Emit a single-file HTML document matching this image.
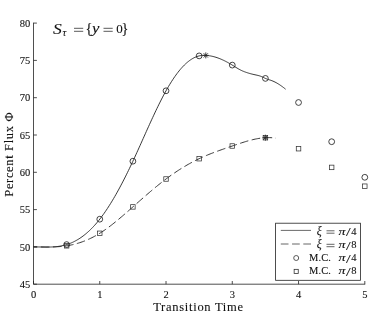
<!DOCTYPE html>
<html><head><meta charset="utf-8"><style>
html,body{margin:0;padding:0;background:#fff;}
body{width:374px;height:315px;overflow:hidden;}
svg{display:block;will-change:transform;}
text{font-family:"Liberation Serif",serif;fill:#111;stroke:#111;stroke-width:0.1px;}
.i{font-style:italic;}
</style></head><body>
<svg width="374" height="315" viewBox="0 0 374 315">

<g stroke="#222" stroke-width="0.8" fill="none">
<path d="M33.5,22.7 V284.2 H365.20"/>
<line x1="33.5" y1="284.20" x2="36.9" y2="284.20"/>
<line x1="33.5" y1="246.90" x2="36.9" y2="246.90"/>
<line x1="33.5" y1="209.60" x2="36.9" y2="209.60"/>
<line x1="33.5" y1="172.30" x2="36.9" y2="172.30"/>
<line x1="33.5" y1="135.00" x2="36.9" y2="135.00"/>
<line x1="33.5" y1="97.70" x2="36.9" y2="97.70"/>
<line x1="33.5" y1="60.40" x2="36.9" y2="60.40"/>
<line x1="33.5" y1="23.10" x2="36.9" y2="23.10"/>
<line x1="33.50" y1="284.2" x2="33.50" y2="281.0"/>
<line x1="99.76" y1="284.2" x2="99.76" y2="281.0"/>
<line x1="166.02" y1="284.2" x2="166.02" y2="281.0"/>
<line x1="232.28" y1="284.2" x2="232.28" y2="281.0"/>
<line x1="298.54" y1="284.2" x2="298.54" y2="281.0"/>
<line x1="364.80" y1="284.2" x2="364.80" y2="281.0"/>
</g>
<g font-size="10.5px" text-anchor="end">
<text x="30.2" y="287.80">45</text>
<text x="30.2" y="250.50">50</text>
<text x="30.2" y="213.20">55</text>
<text x="30.2" y="175.90">60</text>
<text x="30.2" y="138.60">65</text>
<text x="30.2" y="101.30">70</text>
<text x="30.2" y="64.00">75</text>
<text x="30.2" y="26.70">80</text>
</g>
<g font-size="10.5px" text-anchor="middle">
<text x="33.50" y="297.5">0</text>
<text x="99.76" y="297.5">1</text>
<text x="166.02" y="297.5">2</text>
<text x="232.28" y="297.5">3</text>
<text x="298.54" y="297.5">4</text>
<text x="364.80" y="297.5">5</text>
</g>
<text x="153.2" y="310.9" font-size="12.5px" letter-spacing="0.72">Transition Time</text>
<text transform="translate(13.4,196.7) rotate(-90)" font-size="12.5px" letter-spacing="0.65">Percent Flux Φ</text>
<g font-size="12.5px">
<text class="i" x="53.0" y="33.5" font-size="14.2px" textLength="8.8" lengthAdjust="spacingAndGlyphs">S</text>
<text class="i" x="62.6" y="36.1" font-size="10.5px">τ</text>
<path d="M74.0,28.3 H83.2 M74.0,31.3 H83.2" stroke="#222" stroke-width="0.75" fill="none"/>
<text x="85.6" y="33.2" font-size="14.5px">{</text>
<text class="i" x="92.0" y="33.4" font-size="14px" textLength="7.4" lengthAdjust="spacingAndGlyphs">y</text>
<path d="M103.5,28.3 H112.7 M103.5,31.3 H112.7" stroke="#222" stroke-width="0.75" fill="none"/>
<text x="116.3" y="33.4" font-size="13px">0</text>
<text x="121.4" y="33.2" font-size="14.5px">}</text>
</g>
<path d="M33.50,246.90 L34.55,246.90 L35.61,246.91 L36.66,246.93 L37.72,246.94 L38.77,246.96 L39.83,246.98 L40.88,247.00 L41.94,247.02 L42.99,247.04 L44.05,247.05 L45.10,247.06 L46.16,247.07 L47.21,247.07 L48.27,247.06 L49.32,247.04 L50.38,247.02 L51.43,246.98 L52.49,246.93 L53.54,246.87 L54.60,246.79 L55.65,246.70 L56.71,246.60 L57.76,246.47 L58.82,246.33 L59.87,246.17 L60.93,245.99 L61.98,245.78 L63.03,245.56 L64.09,245.31 L65.14,245.03 L66.20,244.73 L67.25,244.40 L68.31,244.05 L69.36,243.66 L70.42,243.25 L71.47,242.81 L72.53,242.35 L73.58,241.85 L74.64,241.32 L75.69,240.76 L76.75,240.18 L77.80,239.56 L78.86,238.91 L79.91,238.23 L80.97,237.52 L82.02,236.77 L83.08,236.00 L84.13,235.19 L85.19,234.35 L86.24,233.48 L87.30,232.57 L88.35,231.63 L89.41,230.65 L90.46,229.64 L91.51,228.60 L92.57,227.52 L93.62,226.40 L94.68,225.25 L95.73,224.07 L96.79,222.84 L97.84,221.58 L98.90,220.29 L99.95,218.95 L101.01,217.58 L102.06,216.17 L103.12,214.73 L104.17,213.25 L105.23,211.73 L106.28,210.18 L107.34,208.59 L108.39,206.98 L109.45,205.32 L110.50,203.64 L111.56,201.92 L112.61,200.17 L113.67,198.40 L114.72,196.59 L115.78,194.75 L116.83,192.88 L117.88,190.98 L118.94,189.06 L119.99,187.10 L121.05,185.12 L122.10,183.12 L123.16,181.08 L124.21,179.02 L125.27,176.94 L126.32,174.83 L127.38,172.70 L128.43,170.55 L129.49,168.37 L130.54,166.17 L131.60,163.95 L132.65,161.71 L133.71,159.45 L134.76,157.16 L135.82,154.87 L136.87,152.55 L137.93,150.23 L138.98,147.89 L140.04,145.55 L141.09,143.20 L142.15,140.84 L143.20,138.48 L144.26,136.12 L145.31,133.77 L146.36,131.41 L147.42,129.06 L148.47,126.72 L149.53,124.39 L150.58,122.08 L151.64,119.77 L152.69,117.48 L153.75,115.21 L154.80,112.96 L155.86,110.73 L156.91,108.53 L157.97,106.35 L159.02,104.20 L160.08,102.08 L161.13,99.99 L162.19,97.94 L163.24,95.92 L164.30,93.94 L165.35,92.01 L166.41,90.11 L167.46,88.26 L168.52,86.45 L169.57,84.69 L170.63,82.97 L171.68,81.30 L172.74,79.68 L173.79,78.10 L174.84,76.58 L175.90,75.10 L176.95,73.67 L178.01,72.28 L179.06,70.95 L180.12,69.67 L181.17,68.44 L182.23,67.27 L183.28,66.14 L184.34,65.07 L185.39,64.05 L186.45,63.08 L187.50,62.17 L188.56,61.32 L189.61,60.52 L190.67,59.77 L191.72,59.09 L192.78,58.46 L193.83,57.88 L194.89,57.37 L195.94,56.92 L197.00,56.52 L198.05,56.19 L199.11,55.91 L200.16,55.70 L201.22,55.54 L202.27,55.43 L203.32,55.37 L204.38,55.36 L205.43,55.38 L206.49,55.44 L207.54,55.53 L208.60,55.65 L209.65,55.80 L210.71,55.98 L211.76,56.19 L212.82,56.43 L213.87,56.70 L214.93,56.99 L215.98,57.31 L217.04,57.65 L218.09,58.02 L219.15,58.42 L220.20,58.84 L221.26,59.28 L222.31,59.74 L223.37,60.23 L224.42,60.73 L225.48,61.26 L226.53,61.81 L227.59,62.37 L228.64,62.96 L229.69,63.56 L230.75,64.17 L231.80,64.81 L232.86,65.46 L233.91,66.12 L234.97,66.78 L236.02,67.44 L237.08,68.09 L238.13,68.71 L239.19,69.31 L240.24,69.87 L241.30,70.39 L242.35,70.88 L243.41,71.32 L244.46,71.74 L245.52,72.13 L246.57,72.49 L247.63,72.84 L248.68,73.16 L249.74,73.47 L250.79,73.77 L251.85,74.04 L252.90,74.30 L253.96,74.55 L255.01,74.78 L256.07,75.00 L257.12,75.23 L258.17,75.49 L259.23,75.78 L260.28,76.12 L261.34,76.52 L262.39,76.98 L263.45,77.48 L264.50,77.99 L265.56,78.46 L266.61,78.88 L267.67,79.26 L268.72,79.61 L269.78,79.96 L270.83,80.31 L271.89,80.70 L272.94,81.12 L274.00,81.59 L275.05,82.10 L276.11,82.65 L277.16,83.24 L278.22,83.87 L279.27,84.54 L280.33,85.24 L281.38,85.97 L282.44,86.73 L283.49,87.53 L284.55,88.35 L285.60,89.20" stroke="#222" stroke-width="0.9" fill="none"/>
<path d="M33.50,246.90 L34.72,246.90 L35.94,246.91 L37.15,246.92 L38.37,246.93 L39.59,246.94 L40.81,246.95 L42.03,246.97 L43.24,246.98 L44.46,246.99 L45.68,247.00 L46.90,247.00 L48.12,247.00 L49.34,246.99 L50.55,246.98 L51.77,246.96 L52.99,246.93 L54.21,246.89 L55.43,246.84 L56.64,246.78 L57.86,246.71 L59.08,246.63 L60.30,246.54 L61.52,246.43 L62.73,246.31 L63.95,246.17 L65.17,246.01 L66.39,245.84 L67.61,245.64 L68.82,245.43 L70.04,245.21 L71.26,244.96 L72.48,244.69 L73.70,244.41 L74.92,244.10 L76.13,243.77 L77.35,243.43 L78.57,243.06 L79.79,242.68 L81.01,242.27 L82.22,241.84 L83.44,241.40 L84.66,240.93 L85.88,240.44 L87.10,239.93 L88.31,239.39 L89.53,238.84 L90.75,238.26 L91.97,237.66 L93.19,237.04 L94.40,236.40 L95.62,235.73 L96.84,235.05 L98.06,234.33 L99.28,233.60 L100.49,232.84 L101.71,232.06 L102.93,231.25 L104.15,230.43 L105.37,229.58 L106.59,228.72 L107.80,227.83 L109.02,226.93 L110.24,226.01 L111.46,225.08 L112.68,224.13 L113.89,223.16 L115.11,222.19 L116.33,221.19 L117.55,220.19 L118.77,219.18 L119.98,218.15 L121.20,217.12 L122.42,216.08 L123.64,215.03 L124.86,213.97 L126.07,212.91 L127.29,211.84 L128.51,210.77 L129.73,209.70 L130.95,208.62 L132.17,207.54 L133.38,206.46 L134.60,205.38 L135.82,204.30 L137.04,203.23 L138.26,202.15 L139.47,201.07 L140.69,200.00 L141.91,198.93 L143.13,197.86 L144.35,196.80 L145.56,195.74 L146.78,194.69 L148.00,193.64 L149.22,192.59 L150.44,191.55 L151.65,190.52 L152.87,189.50 L154.09,188.48 L155.31,187.47 L156.53,186.47 L157.75,185.48 L158.96,184.49 L160.18,183.52 L161.40,182.56 L162.62,181.60 L163.84,180.66 L165.05,179.73 L166.27,178.81 L167.49,177.90 L168.71,177.01 L169.93,176.13 L171.14,175.26 L172.36,174.40 L173.58,173.56 L174.80,172.73 L176.02,171.91 L177.23,171.10 L178.45,170.30 L179.67,169.52 L180.89,168.75 L182.11,167.99 L183.33,167.25 L184.54,166.52 L185.76,165.80 L186.98,165.09 L188.20,164.39 L189.42,163.71 L190.63,163.04 L191.85,162.38 L193.07,161.74 L194.29,161.10 L195.51,160.48 L196.72,159.87 L197.94,159.28 L199.16,158.70 L200.38,158.12 L201.60,157.57 L202.81,157.02 L204.03,156.48 L205.25,155.96 L206.47,155.44 L207.69,154.94 L208.91,154.44 L210.12,153.95 L211.34,153.47 L212.56,153.00 L213.78,152.54 L215.00,152.08 L216.21,151.62 L217.43,151.18 L218.65,150.74 L219.87,150.30 L221.09,149.87 L222.30,149.44 L223.52,149.01 L224.74,148.59 L225.96,148.17 L227.18,147.75 L228.39,147.33 L229.61,146.91 L230.83,146.50 L232.05,146.08 L233.27,145.66 L234.48,145.24 L235.70,144.83 L236.92,144.41 L238.14,144.00 L239.36,143.59 L240.58,143.19 L241.79,142.79 L243.01,142.40 L244.23,142.02 L245.45,141.65 L246.67,141.28 L247.88,140.93 L249.10,140.59 L250.32,140.27 L251.54,139.95 L252.76,139.66 L253.97,139.37 L255.19,139.11 L256.41,138.86 L257.63,138.64 L258.85,138.43 L260.06,138.24 L261.28,138.08 L262.50,137.94 L263.72,137.82 L264.94,137.73 L266.16,137.66 L267.37,137.62 L268.59,137.61 L269.81,137.63 L271.03,137.68 L272.25,137.76 L273.46,137.87 L274.68,138.02 L275.90,138.20" stroke="#222" stroke-width="0.9" fill="none" stroke-dasharray="8.6,3.5" stroke-dashoffset="4.75"/>
<g stroke="#222" stroke-width="0.85" fill="none">
<circle cx="66.63" cy="244.6" r="2.9"/>
<circle cx="99.76" cy="219.2" r="2.9"/>
<circle cx="132.89" cy="161.2" r="2.9"/>
<circle cx="166.02" cy="90.8" r="2.9"/>
<circle cx="199.15" cy="55.9" r="2.9"/>
<circle cx="232.28" cy="65.1" r="2.9"/>
<circle cx="265.41" cy="78.4" r="2.9"/>
<circle cx="298.54" cy="102.5" r="2.9"/>
<circle cx="331.67" cy="141.7" r="2.9"/>
<circle cx="364.80" cy="177.3" r="2.9"/>
<rect x="64.38" y="243.55" width="4.5" height="4.5" stroke="#333" stroke-width="0.75"/>
<rect x="97.51" y="231.05" width="4.5" height="4.5" stroke="#333" stroke-width="0.75"/>
<rect x="130.64" y="204.65" width="4.5" height="4.5" stroke="#333" stroke-width="0.75"/>
<rect x="163.77" y="176.75" width="4.5" height="4.5" stroke="#333" stroke-width="0.75"/>
<rect x="196.90" y="156.45" width="4.5" height="4.5" stroke="#333" stroke-width="0.75"/>
<rect x="230.03" y="143.75" width="4.5" height="4.5" stroke="#333" stroke-width="0.75"/>
<rect x="263.16" y="135.45" width="4.5" height="4.5" stroke="#333" stroke-width="0.75"/>
<rect x="296.29" y="146.45" width="4.5" height="4.5" stroke="#333" stroke-width="0.75"/>
<rect x="329.42" y="165.15" width="4.5" height="4.5" stroke="#333" stroke-width="0.75"/>
<rect x="362.55" y="183.95" width="4.5" height="4.5" stroke="#333" stroke-width="0.75"/>
<line x1="202.80" y1="55.40" x2="208.80" y2="55.40"/><line x1="203.68" y1="53.28" x2="207.92" y2="57.52"/><line x1="205.80" y1="52.40" x2="205.80" y2="58.40"/><line x1="207.92" y1="53.28" x2="203.68" y2="57.52"/>
<line x1="262.40" y1="137.70" x2="268.40" y2="137.70"/><line x1="263.28" y1="135.58" x2="267.52" y2="139.82"/><line x1="265.40" y1="134.70" x2="265.40" y2="140.70"/><line x1="267.52" y1="135.58" x2="263.28" y2="139.82"/>
</g>
<rect x="275.6" y="223.2" width="84.8" height="57.1" fill="#fff" stroke="#222" stroke-width="0.8"/>
<g stroke="#333" stroke-width="0.7" fill="none">
<line x1="280.8" y1="230.4" x2="311" y2="230.4" stroke="#444" stroke-width="0.8"/>
<line x1="280.8" y1="244.0" x2="311" y2="244.0" stroke="#333" stroke-width="0.75" stroke-dasharray="7.7,3.55"/>
<circle cx="296.2" cy="258.0" r="2.5" stroke-width="0.8"/>
<rect x="294.15" y="269.35" width="4.1" height="4.1" stroke-width="0.8"/>
</g>
<g font-size="10.5px">
<text class="i" x="316.8" y="234.5" font-size="11.5px">ξ</text>
<path d="M326.5,230.8 H334.5 M326.5,233.2 H334.5" stroke="#222" stroke-width="0.7" fill="none"/>
<text class="i" x="338.4" y="234.5" font-size="11.2px" textLength="7.0" lengthAdjust="spacingAndGlyphs">π</text>
<text x="345.9" y="236.4" font-size="13.5px" textLength="4.7" lengthAdjust="spacingAndGlyphs">/</text>
<text x="351.2" y="234.5">4</text>
<text class="i" x="316.8" y="248.0" font-size="11.5px">ξ</text>
<path d="M326.5,244.3 H334.5 M326.5,246.7 H334.5" stroke="#222" stroke-width="0.7" fill="none"/>
<text class="i" x="338.4" y="248.0" font-size="11.2px" textLength="7.0" lengthAdjust="spacingAndGlyphs">π</text>
<text x="345.9" y="249.9" font-size="13.5px" textLength="4.7" lengthAdjust="spacingAndGlyphs">/</text>
<text x="351.2" y="248.0">8</text>
<text x="309.0" y="261.1" letter-spacing="0.1">M.C.</text>
<text class="i" x="338.4" y="261.1" font-size="11.2px" textLength="7.0" lengthAdjust="spacingAndGlyphs">π</text>
<text x="345.9" y="263.0" font-size="13.5px" textLength="4.7" lengthAdjust="spacingAndGlyphs">/</text>
<text x="351.2" y="261.1">4</text>
<text x="309.0" y="274.3" letter-spacing="0.1">M.C.</text>
<text class="i" x="338.4" y="274.3" font-size="11.2px" textLength="7.0" lengthAdjust="spacingAndGlyphs">π</text>
<text x="345.9" y="276.2" font-size="13.5px" textLength="4.7" lengthAdjust="spacingAndGlyphs">/</text>
<text x="351.2" y="274.3">8</text>
</g>
</svg></body></html>
